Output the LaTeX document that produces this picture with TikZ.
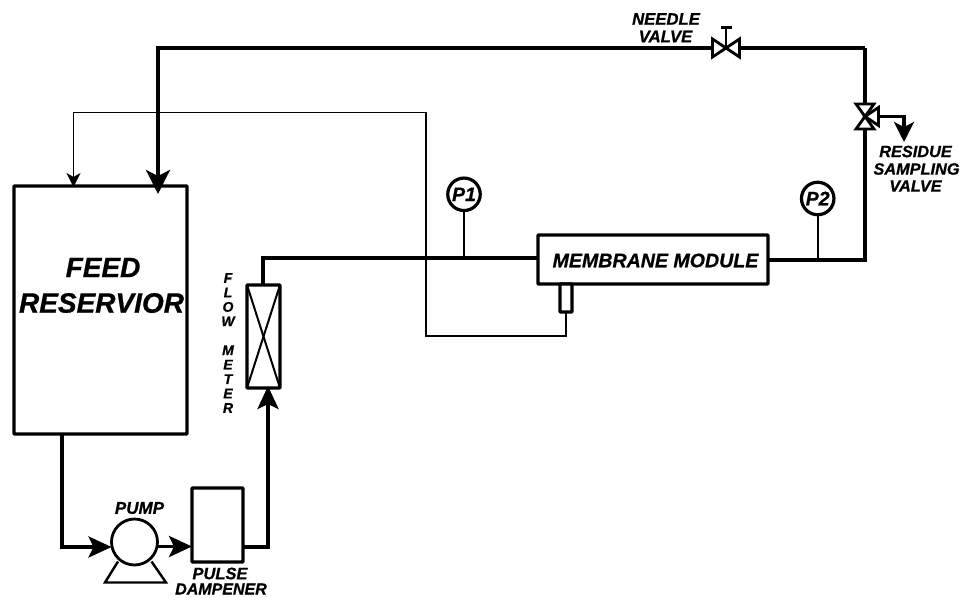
\documentclass[tikz,border=0pt]{standalone}
\usepackage{fontspec}
\setmainfont{Liberation Sans}
\newfontfamily\labfont[FakeBold=0.8]{Liberation Sans Bold Italic}
\usetikzlibrary{arrows.meta,calc}
\newcommand{\fsz}[1]{\fontsize{#1}{#1}\selectfont\labfont}
\tikzset{
  x=1pt,y=-1pt,
  pipe/.style={line width=3.8pt,draw=black},
  thinline/.style={line width=1.25pt,draw=black},
  stem/.style={line width=2pt,draw=black},
  unit/.style={draw=black,fill=white,line width=3.2pt,inner sep=0pt,outer sep=0pt,rounded corners=0.6pt},
  gauge/.style={circle,draw=black,fill=white,line width=3.2pt,minimum size=32.5pt,inner sep=0pt,outer sep=0pt},
  valvetri/.style={draw=black,fill=white,line width=2.8pt,line join=miter},
  bighead/.style={-{Stealth[length=24pt,width=24pt,inset=6pt]}},
  midhead/.style={-{Stealth[length=23pt,width=21pt,inset=5pt]}},
  smallhead/.style={-{Stealth[length=14pt,width=14pt,inset=4pt]}},
  lab/.style={inner sep=0pt,align=center,text=black}
}
\begin{document}
\begin{tikzpicture}
\useasboundingbox (0,0) rectangle (961,597);
% named points
\coordinate (nv) at (726,48);
\coordinate (tv) at (865,116.5);
\coordinate (c1) at (158,48);
\coordinate (c2) at (865,48);
\coordinate (c3) at (865,260);
\coordinate (tipres) at (158,194);
\coordinate (tipthin) at (73.5,187);
\coordinate (t1) at (426,336);
\coordinate (t2) at (426,112.5);
\coordinate (t3) at (73.5,112.5);
\coordinate (s1) at (904,116.5);
\coordinate (tips) at (904,142);
\coordinate (o1) at (62,547);
\coordinate (d1) at (268,547);
\coordinate (fm1) at (263,258);
% nodes
\node[unit,minimum width=173pt,minimum height=248pt] (res) at (100.5,310) {};
\node[unit,minimum width=51pt,minimum height=74pt] (damp) at (217.5,525) {};
\node[unit,minimum width=33pt,minimum height=103pt] (fm) at (263.5,336.5) {};
\node[unit,minimum width=230pt,minimum height=49pt] (mod) at (653,259.5) {};
\node[unit,minimum width=12pt,minimum height=28pt] (sens) at (566,298) {};
\node[circle,draw=black,fill=white,line width=2.8pt,minimum size=46pt,inner sep=0pt,outer sep=0pt] (pump) at (134.5,542) {};
\node[gauge] (p1) at (464,194.3) {\fsz{19.5}P1};
\node[gauge] (p2) at (817.7,198.5) {\fsz{19.5}P2};
% thin signal line
\draw[thinline,smallhead] (sens.south) |- (t1) -- (t2) -- (t3) -- (tipthin);
% pipes
\draw[pipe,bighead] (c2) -- (c1) -- (tipres);
\draw[pipe] (mod.east |- c3) -- (c3) -- (c2);
\draw[pipe] (fm.north -| fm1) -- (fm1) -- (mod.west |- fm1);
\draw[pipe,midhead] (res.south -| o1) -- (o1) -- (pump.west |- o1);
\draw[pipe,midhead] (pump.east |- 0,546.5) -- (damp.west |- 0,546.5);
\draw[pipe,midhead,shorten >=-2pt] (damp.east |- d1) -- (d1) -- (d1 |- fm.south);
\draw[pipe,line width=3.2pt,-{Stealth[length=20pt,width=20pt,inset=5pt]}] (tv) -- (s1) -- (tips);
% gauge stems
\draw[stem] (p1.south) -- (p1.south |- fm1);
\draw[stem] (p2.south) -- (p2.south |- c3);
% flow meter cross
\draw[stem] (fm.north west) -- (fm.south east);
\draw[stem] (fm.north east) -- (fm.south west);
% pump legs
\draw[line width=2.4pt,line join=miter] (118,561.5) -- (105,582.5) -- (166,582.5) -- (151.5,561.5);
% needle valve
\draw[valvetri] (nv) -- ++(-13.5,-9) -- ++(0,18) -- cycle;
\draw[valvetri] (nv) -- ++(13.5,-9) -- ++(0,18) -- cycle;
\draw[stem,line width=2.6pt] (nv) -- ++(0,-21);
\draw[line width=3pt] ($(nv)+(-5.5,-21)$) -- ++(11,0);
% three way valve
\draw[valvetri] (tv) -- ++(-9,-12.5) -- ++(18,0) -- cycle;
\draw[valvetri] (tv) -- ++(-9,12.5) -- ++(18,0) -- cycle;
\draw[valvetri] (tv) -- ++(13.5,-9) -- ++(0,18) -- cycle;
% labels
\node[lab] at (103,267.5) {\fsz{28}FEED};
\node[lab] at (101.5,303) {\fsz{28}RESERVIOR};
\node[lab] at (655.5,260.5) {\fsz{19.6}MEMBRANE MODULE};
\node[lab,font=\fontsize{14}{14.45}\selectfont\labfont] at (228,343) {F\\L\\O\\W\\\mbox{}\\M\\E\\T\\E\\R};
\node[lab] at (139.5,508) {\fsz{17}PUMP};
\node[lab] at (220,573.5) {\fsz{16.5}PULSE};
\node[lab] at (221,589) {\fsz{16}DAMPENER};
\node[lab] at (666,19) {\fsz{16.7}NEEDLE};
\node[lab] at (665.5,36.5) {\fsz{16.7}VALVE};
\node[lab] at (915.5,151.5) {\fsz{16.3}RESIDUE};
\node[lab] at (916.5,169) {\fsz{16.3}SAMPLING};
\node[lab] at (915.5,186) {\fsz{16.3}VALVE};
\end{tikzpicture}
\end{document}
